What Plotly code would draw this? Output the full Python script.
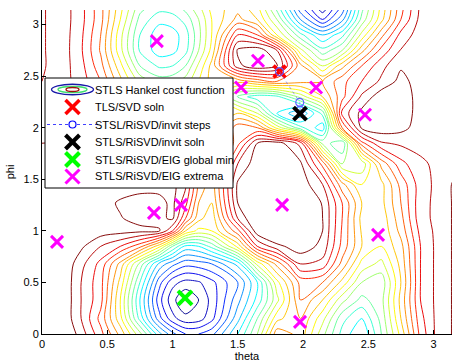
import math
import plotly.graph_objects as go

# ---------------- data ----------------
THETA = [0.0, 0.15, 0.3, 0.45, 0.6, 0.75, 0.9, 1.0, 1.1, 1.2, 1.3, 1.5, 1.65, 1.8,
         1.98, 2.15, 2.3, 2.45, 2.6, 2.75, 2.9, 3.02, 3.1, 3.16]
PHI = [0.0, 0.15, 0.33, 0.5, 0.68, 0.85, 1.0, 1.12, 1.27, 1.45, 1.65, 1.85, 2.0,
       2.14, 2.3, 2.45, 2.6, 2.75, 2.9, 3.05, 3.16]

# estimated cost levels (one row per PHI value, one column per THETA value)
COST = [
    [33, 32, 29.3, 26, 22, 17, 11, 8, 6, 6, 7, 12, 16.5, 23.5, 22, 17, 13, 10.5, 15, 20, 26, 28.8, 29.5, 30.3],
    [33, 31.5, 28.5, 25, 20, 13, 6.5, 3.5, 2, 2.3, 4, 10, 15, 20.5, 22.5, 18.5, 14, 12, 15.5, 21, 26.5, 28.8, 29.5, 30.3],
    [33, 31.5, 28.5, 26, 19.5, 12, 5, 2, 0, 1.5, 3.5, 8.5, 12.5, 17.5, 24, 21, 17, 14.5, 16, 21.5, 27, 28.8, 29.5, 30.3],
    [33, 31.5, 28.5, 26, 20.5, 13.5, 6.5, 3.5, 2.5, 2.8, 4, 7.5, 12, 19, 24.5, 24, 20.5, 16.5, 15.5, 21, 27, 28.8, 29.5, 30.3],
    [33, 31.5, 29, 26.5, 22, 16, 10, 8, 6.5, 6.8, 7.5, 11, 18.5, 23, 28.5, 28, 23.5, 19, 17.5, 21.5, 27, 28.8, 29.5, 30.3],
    [33, 32, 30.3, 28.5, 27, 24.5, 20, 15, 11.5, 12, 14, 20, 27, 29.5, 31, 29.5, 25, 21, 19.5, 22, 27, 28.8, 29.5, 30.3],
    [33, 32.5, 31.5, 30.8, 30.6, 30.4, 30.1, 27, 21, 19, 19.5, 25, 31, 32.5, 33, 30, 25.3, 20.8, 19.8, 23, 27.5, 28.8, 29.5, 30.3],
    [33, 32.5, 31.5, 31, 30.1, 29.5, 29.6, 30.3, 25.5, 21.5, 20, 28.5, 32, 33, 33, 30, 25.5, 20.5, 20, 23.5, 28, 28.8, 29.5, 30.3],
    [33, 32.5, 31.5, 30.6, 29.8, 29.4, 29.5, 30.4, 27.5, 22.5, 21, 30, 32, 33.5, 33, 29.8, 25.5, 21, 20.5, 24, 28, 28.8, 29.5, 30.3],
    [33, 32.5, 31.5, 31, 30.8, 30.6, 30.6, 30.5, 28.5, 23.5, 21.5, 30.3, 32.5, 33.5, 31, 28.5, 23, 19.5, 20.5, 24.5, 27.8, 28.8, 29.5, 30.3],
    [30.5, 30.5, 30.3, 30, 29.5, 28.8, 27.5, 26, 24, 21.5, 20, 28.5, 31, 33, 30.3, 25, 16.5, 16.8, 23, 26.5, 28.2, 28.8, 29.3, 29.3],
    [30, 30, 29.8, 29.3, 28.5, 27, 25, 23.5, 21.5, 19.5, 19, 25, 30, 30.8, 28, 16, 13.5, 25, 28.3, 28.8, 29, 29.3, 29.3, 29.3],
    [29.5, 29.7, 29.3, 28.5, 27, 25, 23, 21.5, 20, 19, 19.5, 25, 24, 19, 14, 11, 24, 30.3, 31, 30.5, 29.3, 29.3, 29.3, 29.3],
    [29, 29.5, 28.8, 27.5, 25.5, 23, 21, 20, 19.5, 19.5, 20, 21, 18, 12, 9, 14, 27.5, 30.5, 31.5, 31, 29.3, 29.3, 29.3, 29.3],
    [28.7, 29.3, 28.3, 26.5, 23.5, 20.5, 19, 18.8, 19.2, 20, 20.5, 14.5, 12.5, 13, 17, 21, 25, 28.8, 31, 31, 29.3, 29.3, 29.3, 29.3],
    [28.5, 29.2, 27.8, 25.5, 21.5, 17.5, 15.8, 16, 17.2, 19.5, 21.5, 21.5, 23, 24, 23, 22.5, 25, 27, 28.8, 30.5, 29.3, 29.3, 29.3, 29.3],
    [28.3, 29.3, 27.5, 24.5, 20, 15, 13.2, 13.5, 15, 18.3, 21.5, 29.5, 31.3, 30.2, 23, 18, 22, 25.5, 28, 29.8, 29.3, 29.3, 29.3, 29.3],
    [28.3, 29.4, 27.2, 23.8, 18.5, 13.3, 11.2, 11.5, 13, 16.5, 20, 30.3, 31, 28.5, 18.5, 14, 16.5, 22, 26, 28.6, 29.3, 29.3, 29.3, 29.3],
    [28.3, 29.4, 27.3, 24, 18.5, 13.5, 11, 11.3, 12.8, 16, 19.5, 27, 25.5, 19.5, 14, 10.5, 13, 18.5, 23.5, 27.5, 29.3, 29.3, 29.3, 29.3],
    [28.3, 29.4, 27.5, 24.5, 19.5, 14.5, 12.5, 12.8, 14, 16.5, 19.5, 23, 21, 16.5, 9, 4.5, 8.5, 15.5, 20.5, 25.5, 29, 29.3, 29.3, 29.3],
    [28.3, 29.4, 27.5, 24.5, 20, 15.5, 14, 14.2, 15.5, 17.5, 20, 22, 20, 14.5, 6.5, 2, 6.5, 14.5, 20, 25, 28.8, 29.3, 29.3, 29.3],
]

TLS_THETA = [1.82]
TLS_PHI = [2.545]
STEPS_THETA = [1.82, 1.975, 1.978]
STEPS_PHI = [2.545, 2.245, 2.17]
INVIT_THETA = [1.977]
INVIT_PHI = [2.136]
GMIN_THETA = [1.096]
GMIN_PHI = [0.35]
EXT_THETA = [0.88, 1.655, 1.525, 2.10, 2.475, 1.065, 0.858, 0.115, 1.84, 2.575, 1.977]
EXT_PHI = [2.84, 2.65, 2.39, 2.39, 2.126, 1.252, 1.175, 0.893, 1.252, 0.961, 0.117]

TICKS = [0, 0.5, 1, 1.5, 2, 2.5, 3]
TICK_TEXT = ["0", "0.5", "1", "1.5", "2", "2.5", "3"]

LEGEND_NAMES = ["STLS Hankel cost function", "TLS/SVD soln", "STSL/RiSVD/invit steps",
                "STLS/RiSVD/invit soln", "STLS/RiSVD/EIG global min", "STLS/RiSVD/EIG extrema"]

# ---------------- styling ----------------
FONT = "Liberation Sans, Arial, Helvetica, sans-serif"
JET = [[0.0, "#00008F"], [0.125, "#0000FF"], [0.375, "#00FFFF"],
       [0.625, "#FFFF00"], [0.875, "#FF0000"], [1.0, "#800000"]]

W, H = 452, 362
ML, MR, MT, MB = 42, 0, 10, 28
PW, PH = W - ML - MR, H - MT - MB

fig = go.Figure()

fig.add_trace(go.Contour(
    x=THETA, y=PHI, z=COST,
    autocontour=False,
    contours=dict(start=1.5, end=30, size=1.5, coloring="lines"),
    colorscale=JET, zmin=1.5, zmax=30, showscale=False,
    line=dict(width=0.95, smoothing=0.85),
    hoverinfo="skip", showlegend=False,
))

fig.add_trace(go.Scatter(x=TLS_THETA, y=TLS_PHI, mode="markers", showlegend=False,
                         marker=dict(symbol="x-thin", size=12, line=dict(width=3.5, color="#FF0000"))))
fig.add_trace(go.Scatter(x=STEPS_THETA, y=STEPS_PHI, mode="lines+markers", showlegend=False,
                         line=dict(color="#6060FF", width=0.6, dash="dot"),
                         marker=dict(symbol="circle-open", size=8, line=dict(width=1.2, color="#0000FF"))))
fig.add_trace(go.Scatter(x=INVIT_THETA, y=INVIT_PHI, mode="markers", showlegend=False,
                         marker=dict(symbol="x-thin", size=13, line=dict(width=4, color="#000000"))))
fig.add_trace(go.Scatter(x=GMIN_THETA, y=GMIN_PHI, mode="markers", showlegend=False,
                         marker=dict(symbol="x-thin", size=14, line=dict(width=4, color="#00FF00"))))
fig.add_trace(go.Scatter(x=EXT_THETA, y=EXT_PHI, mode="markers", showlegend=False,
                         marker=dict(symbol="x-thin", size=12, line=dict(width=3, color="#FF00FF"))))

# ---------------- hand-built legend (paper coordinates) ----------------
def px(xpix):
    return (xpix - ML) / PW


def py(ypix):
    return (H - MB - ypix) / PH


shapes = []
annotations = []
shapes.append(dict(type="rect", xref="paper", yref="paper", x0=px(45), x1=px(233), y0=py(188), y1=py(78),
                   fillcolor="white", line=dict(color="black", width=1), layer="above"))

rows_y = [89.5, 107, 124.5, 142, 159.5, 176.5]
icon_x = 72.5
# cost function icon: concentric ellipses
for (w, h, col) in [(42, 10.5, "#1818A8"), (29, 6, "#40E070"), (13, 4, "#A01010")]:
    shapes.append(dict(type="circle", xref="paper", yref="paper",
                       x0=px(icon_x - w / 2), x1=px(icon_x + w / 2),
                       y0=py(rows_y[0] + h / 2), y1=py(rows_y[0] - h / 2),
                       line=dict(color=col, width=1.3), layer="above"))


def x_icon(yc, col, lw, half=7):
    for s in (1, -1):
        shapes.append(dict(type="line", xref="paper", yref="paper",
                           x0=px(icon_x - half), x1=px(icon_x + half),
                           y0=py(yc - s * half), y1=py(yc + s * half),
                           line=dict(color=col, width=lw), layer="above"))


x_icon(rows_y[1], "#FF0000", 3.5)
shapes.append(dict(type="line", xref="paper", yref="paper", x0=px(47), x1=px(98),
                   y0=py(rows_y[2]), y1=py(rows_y[2]),
                   line=dict(color="#4040FF", width=1, dash="dot"), layer="above"))
shapes.append(dict(type="circle", xref="paper", yref="paper",
                   x0=px(icon_x - 3.5), x1=px(icon_x + 3.5), y0=py(rows_y[2] + 3.5), y1=py(rows_y[2] - 3.5),
                   fillcolor="white", line=dict(color="#0000FF", width=1.2), layer="above"))
x_icon(rows_y[3], "#000000", 4)
x_icon(rows_y[4], "#00FF00", 4)
x_icon(rows_y[5], "#FF00FF", 3)

for name, yc in zip(LEGEND_NAMES, rows_y):
    annotations.append(dict(text=name, xref="paper", yref="paper", x=px(93), y=py(yc),
                            xanchor="left", yanchor="middle", showarrow=False,
                            font=dict(family=FONT, size=11, color="black")))

axis_common = dict(
    tickvals=TICKS, ticktext=TICK_TEXT, ticks="inside", ticklen=4, tickwidth=1,
    tickcolor="black", showline=True, linecolor="black", linewidth=1, mirror=False,
    showgrid=False, zeroline=False, tickfont=dict(family=FONT, size=11, color="black"),
    range=[0, math.pi], automargin=False,
)

fig.update_layout(
    width=W, height=H,
    margin=dict(l=ML, r=MR, t=MT, b=MB),
    paper_bgcolor="white", plot_bgcolor="white",
    font=dict(family=FONT, size=11, color="black"),
    xaxis=dict(**axis_common, title=dict(text="theta", standoff=2, font=dict(family=FONT, size=11))),
    yaxis=dict(**axis_common, title=dict(text="phi", standoff=6, font=dict(family=FONT, size=11))),
    shapes=shapes, annotations=annotations, showlegend=False,
)

fig.write_html("out.html", config={"displayModeBar": False},
               post_script="document.body.style.margin='0px';document.body.style.padding='0px';"
                           "document.body.style.overflow='hidden';")
